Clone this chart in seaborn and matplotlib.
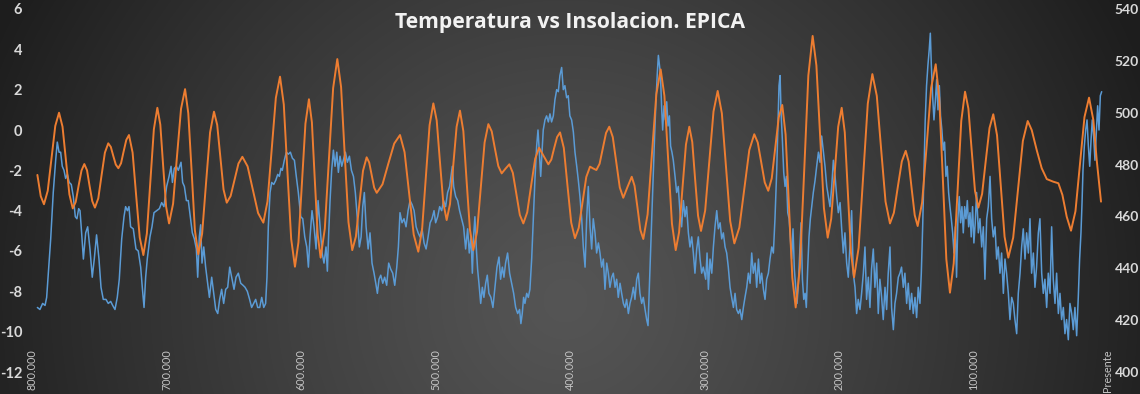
import numpy as np
import pandas as pd
import matplotlib
matplotlib.use("Agg")
import matplotlib.pyplot as plt
import seaborn as sns

# EPICA temperature anomaly (degC), ages in thousands of years before present
temp_age = [
    796.0, 794.1, 792.1, 790.3, 789.1, 787.9, 786.1, 784.2, 782.4, 781.2,
    779.9, 778.7, 777.5, 776.2, 775.0, 773.7, 772.3, 770.8, 769.3, 767.8,
    766.6, 765.3, 764.3, 763.1, 761.8, 760.1, 758.6, 756.9, 755.2, 753.7,
    752.0, 750.2, 748.7, 747.0, 745.0, 743.3, 741.5, 740.0, 738.3, 736.6,
    735.1, 733.3, 731.6, 730.4, 729.1, 727.9, 726.7, 724.7, 722.7, 721.0,
    719.2, 718.0, 716.7, 715.5, 714.3, 712.3, 710.8, 709.3, 707.3, 705.3,
    703.6, 701.9,
    699.9, 698.1, 696.6, 695.6, 694.2, 692.7, 691.2, 689.2, 688.0, 686.7,
    685.2, 683.8, 682.3, 680.8, 679.3, 677.8, 676.8, 675.6, 674.6, 673.6,
    672.3, 670.9, 669.4, 668.1, 666.4, 664.9, 663.4, 661.9, 660.5, 659.0,
    657.5, 656.0, 654.5, 653.0, 651.5, 649.8, 648.3, 646.6, 644.8, 643.1,
    641.6, 639.9, 638.2, 636.7, 635.2, 633.7, 632.2, 630.7, 629.2, 627.7,
    626.3, 625.3, 624.3, 623.0, 621.8, 620.3, 618.8, 617.3, 616.1, 614.9,
    613.9, 612.4, 610.9, 609.4, 607.9, 606.4, 604.9, 603.5, 602.0,
    600.2, 598.7, 597.2, 595.7, 594.5, 593.3, 591.8, 590.3, 588.8, 587.3,
    585.8, 584.3, 582.9, 581.4, 580.4, 579.4, 578.4, 577.2, 575.9, 574.7,
    573.4, 572.2, 571.0, 569.7, 568.5, 567.0, 565.5, 564.0, 562.5, 561.0,
    559.6, 558.1, 556.6, 555.3, 554.1, 552.9, 551.6, 550.1, 548.7, 547.2,
    545.7, 544.4, 543.2, 542.0, 540.7, 539.2, 537.8, 536.3, 534.8, 533.3,
    531.8, 530.3, 528.8, 527.6, 526.4, 524.9, 523.4, 521.9, 520.4, 518.9,
    517.4, 515.9, 514.4, 512.9, 511.5, 510.0, 508.5, 507.0, 505.5, 504.0,
    502.6, 501.1,
    499.9, 498.4, 496.9, 495.4, 494.0, 492.5, 491.0, 489.5, 488.5, 487.5,
    486.5, 485.0, 483.5, 482.1, 480.6, 479.1, 477.6, 476.1, 474.9, 473.6,
    472.6, 471.7, 470.7, 469.7, 468.7, 467.7, 466.4, 465.2, 464.0, 462.7,
    461.5, 460.3, 458.8, 457.3, 455.8, 454.3, 452.8, 451.6, 450.3, 449.1,
    447.9, 446.4, 444.9, 443.4, 441.9, 440.4, 438.9, 437.5, 436.5, 435.5,
    434.5, 433.5, 432.2, 431.0, 429.8, 428.5, 427.3, 426.1, 424.8, 423.8,
    422.8, 421.8, 420.8, 419.9, 418.6, 417.4, 416.1, 414.9, 413.7, 412.4,
    411.2, 409.9, 408.7, 407.5, 406.2, 405.0, 403.8, 402.5, 401.3, 400.1,
    398.8, 397.5, 396.3, 395.0, 393.8, 392.6, 391.3, 390.1, 388.8, 387.6,
    386.4, 385.1, 383.9, 382.7, 381.4, 380.2, 378.9, 377.7, 376.5, 375.2,
    374.0, 372.7, 371.5, 370.3, 369.0, 367.8, 366.5, 365.3, 364.1, 362.8,
    361.6, 360.3, 359.1, 357.9, 356.6, 355.4, 354.2, 352.9, 351.7, 350.4,
    349.2, 348.0, 346.7, 345.5, 344.2, 343.0, 342.0, 341.0, 340.0, 339.0,
    338.0, 337.1, 336.1, 335.1, 334.3, 333.6, 332.8, 331.8, 331.1, 330.1,
    329.1, 328.1, 327.1, 326.1, 325.2, 324.2, 323.2, 321.9, 320.7, 319.5,
    318.2, 317.0, 315.7, 314.5, 313.3, 312.0, 310.8, 309.5, 308.3, 307.1,
    305.8, 304.6, 303.3, 302.1, 300.9,
    299.1, 298.1, 297.1, 295.9, 294.6, 293.4, 292.2, 290.9, 289.7, 288.4,
    287.2, 286.0, 284.7, 283.5, 282.3, 281.0, 279.8, 278.5, 277.3, 276.1,
    274.8, 273.6, 272.3, 271.1, 269.9, 268.6, 267.4, 266.1, 264.9, 263.7,
    262.4, 261.2, 259.9, 258.7, 257.5, 256.2, 255.0, 253.8, 252.5, 251.3,
    250.0, 248.8, 247.6, 246.3, 245.3, 244.6, 243.8, 243.1, 242.1, 241.1,
    240.1, 239.1, 238.1, 237.1, 236.2, 235.2, 234.2, 233.2, 232.2, 231.2,
    230.2, 229.2, 228.2, 227.2, 226.2, 225.2, 224.3, 223.3, 222.3, 221.3,
    220.3, 219.1, 217.8, 216.6, 215.3, 214.1, 212.9, 211.6, 210.4, 209.1,
    207.9, 206.7, 205.4, 204.2, 202.9, 201.7, 200.5, 199.2,
    198.1, 196.8, 195.6, 194.3, 193.1, 191.9, 190.6, 189.4, 188.1, 186.9,
    185.7, 184.4, 183.2, 181.9, 180.7, 179.5, 178.2, 177.0, 175.8, 174.5,
    173.3, 172.0, 170.8, 169.6, 168.3, 167.1, 165.8, 164.6, 163.4, 162.1,
    160.9, 159.6, 158.4, 157.2, 155.9, 154.7, 153.5, 152.2, 151.0, 149.7,
    148.5, 147.3, 146.0, 144.8, 143.5, 142.3, 141.1, 139.8, 138.8, 137.8,
    136.8, 135.9, 134.9, 133.9, 132.9, 132.1, 131.4, 130.4, 129.4, 128.4,
    127.4, 126.4, 125.4, 124.5, 123.5, 122.5, 121.5, 120.5, 119.5, 118.5,
    117.5, 116.5, 115.5, 114.5, 113.5, 112.6, 111.6, 110.6, 109.6, 108.6,
    107.6, 106.6, 105.6, 104.6, 103.6, 102.6, 101.7, 100.7, 99.7, 98.7,
    97.7, 96.4, 95.2, 93.9, 92.7, 91.5, 90.2, 89.0, 87.7, 86.5,
    85.3, 84.0, 82.8, 81.6, 80.3, 79.1, 77.8, 76.6, 75.4, 74.1,
    72.9, 71.6, 70.4, 69.2, 67.9, 66.7, 65.4, 64.2, 63.0, 61.7,
    60.5, 59.2, 58.0, 56.8, 55.5, 54.3, 53.1, 51.8, 50.6, 49.3,
    48.1, 46.9, 45.6, 44.4, 43.1, 41.9, 40.7, 39.4, 38.2, 36.9,
    35.7, 34.5, 33.2, 32.0, 30.8, 29.5, 28.3, 27.0, 25.8, 24.6,
    23.3, 22.1, 21.1, 20.1, 19.3, 18.6, 17.6, 16.6, 15.6, 14.6,
    13.6, 12.6, 11.7, 10.7, 9.7, 8.7, 7.7, 6.7, 5.7, 4.7,
]
temp_c = [
    -8.8, -8.9, -8.6, -8.7, -8.3, -7.1, -5.4, -3.1, -1.5, -0.6,
    -1.1, -1.1, -1.8, -2.0, -2.4, -2.2, -2.6, -2.7, -3.3, -4.3,
    -4.4, -3.9, -4.0, -5.1, -6.4, -5.1, -4.8, -5.9, -7.3, -6.4,
    -5.2, -6.4, -7.8, -8.4, -8.4, -8.6, -8.5, -8.7, -8.9, -8.3,
    -7.4, -5.4, -4.3, -3.8, -4.0, -3.8, -4.8, -4.9, -5.9, -6.0,
    -6.8, -7.8, -8.8, -7.3, -6.4, -5.3, -4.8, -4.1, -4.0, -3.9,
    -3.6, -3.8,
    -2.8, -2.3, -1.8, -2.6, -1.9, -1.8, -2.0, -1.6, -2.6, -2.8,
    -3.5, -3.5, -4.3, -5.1, -5.4, -5.9, -7.3, -5.3, -4.7, -6.6,
    -5.8, -6.8, -7.6, -8.3, -7.3, -8.1, -8.9, -9.1, -8.4, -7.9,
    -8.6, -7.9, -7.8, -6.8, -7.3, -7.9, -7.3, -7.1, -7.6, -7.7,
    -7.8, -8.0, -8.4, -8.8, -8.6, -8.4, -8.8, -8.8, -8.3, -8.8,
    -8.6, -7.3, -4.8, -3.1, -2.6, -2.7, -2.5, -2.2, -2.3, -1.9,
    -2.0, -1.5, -1.1, -1.2, -1.1, -1.4, -1.5, -2.3, -3.1,
    -4.3, -4.4, -5.3, -5.8, -6.8, -5.3, -4.0, -4.8, -5.9, -3.5,
    -4.8, -6.1, -6.6, -5.8, -7.0, -5.1, -3.5, -2.0, -1.0, -1.8,
    -1.1, -2.1, -1.3, -1.8, -1.5, -1.1, -1.6, -1.3, -2.0, -2.3,
    -3.1, -4.4, -5.8, -5.3, -3.8, -3.1, -4.8, -5.9, -5.1, -6.6,
    -7.1, -7.6, -8.1, -7.4, -7.2, -7.6, -7.3, -7.7, -6.6, -6.9,
    -7.1, -7.7, -6.8, -5.8, -4.1, -4.6, -4.4, -4.8, -4.0, -3.5,
    -3.7, -4.0, -4.8, -5.1, -5.3, -4.9, -5.6, -5.9, -5.3, -4.6,
    -4.4, -4.0,
    -4.6, -4.3, -3.8, -4.0, -3.5, -3.8, -3.1, -2.8, -2.3, -1.8,
    -2.8, -3.3, -3.5, -4.0, -4.4, -4.8, -5.9, -4.9, -6.1, -5.3,
    -7.1, -5.3, -4.3, -5.8, -6.9, -7.6, -8.6, -7.8, -8.3, -7.6,
    -7.2, -8.1, -8.3, -8.8, -7.8, -6.8, -6.3, -7.4, -6.8, -7.3,
    -6.6, -6.1, -7.1, -7.6, -8.1, -8.8, -9.1, -8.9, -9.6, -9.1,
    -8.3, -8.6, -8.1, -8.3, -7.9, -6.4, -4.4, -2.5, -0.8, 0.0,
    -1.1, -2.3, -1.1, 0.0, 0.5, 0.7, 0.4, 0.8, 0.4, 0.7,
    1.5, 2.0, 1.9, 2.7, 3.1, 2.0, 2.2, 1.6, 1.7, 0.7,
    0.5, -0.1, -1.1, -1.8, -2.5, -3.3, -4.4, -5.8, -6.8, -4.4,
    -2.8, -4.8, -5.9, -4.4, -5.1, -6.1, -5.6, -6.1, -6.8, -6.4,
    -7.9, -6.6, -7.1, -7.8, -7.3, -7.1, -7.8, -7.4, -8.3, -7.6,
    -8.1, -8.6, -8.8, -8.4, -9.1, -8.6, -8.3, -7.8, -8.4, -7.4,
    -7.1, -8.1, -8.6, -8.3, -8.9, -9.4, -9.7, -7.8, -5.8, -3.8,
    -2.0, -0.3, 1.4, 2.8, 3.7, 3.3, 2.8, 1.0, 0.0, 1.2,
    0.5, 1.4, 0.2, 0.7, -0.8, -1.1, -1.5, -2.3, -3.1, -2.8,
    -4.1, -4.8, -3.5, -4.3, -3.8, -5.1, -5.8, -5.3, -6.1, -7.1,
    -5.9, -5.3, -6.4, -7.1, -6.8,
    -7.4, -6.1, -7.9, -6.4, -7.1, -5.8, -4.8, -4.0, -4.9, -4.6,
    -5.4, -5.1, -5.8, -6.1, -6.8, -7.8, -8.3, -8.8, -8.1, -8.9,
    -9.1, -8.9, -9.4, -8.8, -8.3, -7.8, -7.1, -7.6, -6.1, -7.1,
    -6.6, -7.8, -6.4, -7.6, -7.1, -7.9, -8.4, -7.4, -7.1, -6.4,
    -5.8, -6.1, -4.4, -2.0, 0.5, 2.2, 2.7, 0.9, -0.5, -2.1,
    -2.8, -2.3, -4.1, -4.4, -5.3, -6.4, -4.9, -6.9, -7.8, -8.6,
    -7.6, -6.1, -4.6, -7.4, -8.4, -8.1, -8.8, -6.9, -5.3, -4.4,
    -3.8, -3.1, -2.5, -1.8, -1.1, -1.6, -0.3, -1.1, -1.8, -2.8,
    -3.3, -3.8, -2.8, -1.5, -2.3, -3.3, -4.1, -3.6,
    -4.8, -6.1, -5.1, -6.6, -7.3, -5.8, -4.0, -7.1, -7.8, -9.1,
    -8.4, -8.9, -8.1, -7.1, -5.8, -8.4, -7.3, -8.8, -6.9, -5.9,
    -7.8, -6.6, -9.1, -7.4, -8.3, -9.4, -7.8, -8.9, -7.1, -5.8,
    -8.8, -9.9, -8.6, -8.1, -7.3, -7.1, -6.8, -7.8, -7.1, -8.6,
    -7.6, -8.9, -8.1, -9.1, -8.3, -9.3, -7.8, -8.6, -7.1, -4.8,
    -2.0, 0.5, 2.2, 3.2, 4.0, 4.8, 3.3, 1.7, 0.5, 1.4,
    2.5, 1.0, 2.2, 0.7, 0.0, -1.0, -0.6, -2.3, -1.8, -3.1,
    -3.8, -4.4, -5.1, -6.1, -4.8, -7.3, -4.4, -3.3, -4.6, -3.8,
    -5.1, -3.8, -4.4, -3.5, -4.8, -4.1, -5.3, -3.8, -5.6, -4.6,
    -3.1, -5.1, -4.4, -5.8, -4.8, -7.4, -4.4, -3.8, -2.3, -4.4,
    -5.3, -4.8, -6.4, -5.8, -7.1, -6.1, -8.1, -6.4, -7.1, -8.1,
    -9.4, -8.3, -8.6, -9.4, -10.1, -8.1, -7.1, -5.8, -4.9, -6.4,
    -5.1, -6.1, -4.4, -7.1, -6.1, -7.8, -6.8, -5.1, -4.4, -7.1,
    -8.1, -7.4, -8.8, -7.1, -8.1, -4.8, -7.4, -8.6, -7.1, -9.1,
    -8.1, -9.4, -8.8, -10.1, -9.4, -10.4, -8.6, -9.1, -9.9, -8.8,
    -10.2, -8.3, -6.4, -5.1, -3.6, -2.0, -0.8, 0.0, 0.5, -0.8,
    -1.8, -0.5, 0.5, -0.3, -1.5, -0.1, 1.2, 0.0, 1.7, 1.9,
]

# summer insolation (W/m2), ages in thousands of years before present
insol_age = [
    796.0, 793.5, 791.1, 788.3, 785.5, 782.7, 779.9, 777.3, 774.8, 772.2,
    769.7, 767.5, 765.4, 763.2, 761.1, 759.1, 757.2, 755.2, 753.2, 750.7,
    748.3, 745.8, 743.3, 741.4, 739.6, 737.7, 735.8, 733.8, 731.9, 729.9,
    727.9, 725.2, 722.6, 719.9, 717.2, 714.6, 712.0, 709.4, 706.8, 704.6,
    702.5, 700.3, 698.1, 695.1, 692.2, 689.2, 686.2, 683.8, 681.3, 678.9,
    676.4, 673.5, 670.6, 667.6, 664.7, 662.3, 660.0, 657.6, 655.2, 652.3,
    649.4, 646.5, 643.6, 639.7, 635.8, 631.9, 628.0, 624.9, 621.8, 618.7,
    615.6, 612.8, 610.1, 607.3, 604.5, 601.9, 599.3, 596.7, 594.1, 591.9,
    589.8, 587.6, 585.4, 582.3, 579.2, 576.1, 573.0, 570.2, 567.5, 564.7,
    561.9, 559.2, 556.6, 553.9, 551.2, 549.3, 547.5, 545.6, 543.7, 539.4,
    535.1, 530.7, 526.4, 523.0, 519.6, 516.2, 512.8, 510.0, 507.2, 504.4,
    501.6, 499.1, 496.7, 494.2, 491.7, 489.2, 486.8, 484.3, 481.8, 479.3,
    476.9, 474.4, 471.9, 469.1, 466.3, 463.5, 460.7, 458.2, 455.8, 453.3,
    450.8, 448.0, 445.1, 442.5, 439.9, 437.3, 434.7, 431.8, 428.9, 425.9,
    423.0, 419.6, 416.1, 413.9, 411.8, 409.6, 407.4, 404.6, 401.9, 399.1,
    396.3, 393.5, 390.7, 387.9, 385.1, 382.8, 380.4, 378.0, 375.6, 373.2,
    370.8, 368.2, 365.6, 363.0, 360.4, 357.3, 354.1, 352.0, 349.8, 347.7,
    345.5, 342.3, 339.1, 335.8, 332.6, 329.8, 327.0, 324.2, 321.4, 318.9,
    316.4, 313.8, 311.3, 309.1, 307.0, 304.8, 302.6, 299.5, 296.4, 293.3,
    290.2, 287.1, 284.0, 280.9, 277.8, 274.1, 270.4, 266.7, 263.0, 260.4,
    257.8, 255.2, 252.6, 250.0, 247.4, 244.8, 242.2, 239.7, 237.2, 234.7,
    232.2, 229.1, 225.9, 222.8, 219.6, 216.8, 214.0, 211.2, 208.4, 205.8,
    203.2, 200.6, 198.0, 195.7, 193.4, 191.1, 188.8, 185.4, 182.0, 178.6,
    175.2, 171.9, 168.7, 165.4, 162.1, 159.2, 156.3, 153.3, 150.4, 148.2,
    146.0, 143.7, 141.5, 138.2, 134.8, 131.5, 128.1, 125.5, 122.8, 120.2,
    117.5, 114.7, 111.9, 109.1, 106.3, 103.8, 101.4, 98.9, 96.4, 93.6,
    90.9, 88.1, 85.3, 82.5, 79.7, 76.9, 74.1, 70.5, 66.9, 63.3,
    59.7, 56.7, 53.0, 49.3, 45.5, 40.7, 36.9, 33.9, 30.7, 27.5,
    24.2, 20.8, 17.5, 14.1, 10.9, 8.4, 5.2,
]
insol_wm2 = [
    476.0, 467.8, 464.7, 469.9, 482.4, 494.9, 500.0, 494.6, 481.6, 468.5,
    463.1, 465.6, 471.7, 477.7, 480.2, 477.8, 471.8, 465.9, 463.4, 467.0,
    475.8, 484.6, 488.2, 486.8, 483.4, 480.0, 478.6, 480.5, 485.0, 489.5,
    491.4, 484.6, 468.3, 451.9, 445.1, 453.4, 473.5, 493.6, 501.9, 495.4,
    479.6, 463.8, 457.3, 464.9, 483.2, 501.5, 509.1, 499.8, 477.3, 454.7,
    445.4, 453.4, 472.9, 492.4, 500.4, 495.3, 482.9, 470.4, 465.3, 467.9,
    474.2, 480.4, 483.0, 479.3, 470.3, 461.3, 457.6, 465.8, 485.8, 505.7,
    513.9, 503.2, 477.3, 451.3, 440.6, 450.0, 472.9, 495.8, 505.2, 496.3,
    474.7, 453.0, 444.1, 455.3, 482.4, 509.5, 520.7, 509.9, 483.9, 457.8,
    447.0, 452.2, 464.9, 477.6, 482.8, 480.8, 476.0, 471.1, 469.1, 472.4,
    480.3, 488.1, 491.4, 484.8, 468.9, 453.0, 446.4, 454.8, 475.0, 495.2,
    503.6, 497.0, 481.1, 465.2, 458.6, 464.8, 479.7, 494.6, 500.8, 492.9,
    473.9, 454.9, 447.0, 454.1, 471.3, 488.5, 495.6, 492.8, 486.1, 479.4,
    476.6, 478.4, 480.1, 476.8, 468.7, 460.6, 457.3, 461.6, 471.9, 482.2,
    486.5, 483.3, 480.1, 481.9, 486.3, 490.6, 492.4, 486.4, 472.0, 457.6,
    451.6, 455.6, 465.4, 475.2, 479.2, 478.5, 477.9, 480.3, 486.3, 492.2,
    494.6, 490.6, 480.9, 471.2, 467.2, 471.3, 475.3, 471.8, 463.3, 454.8,
    451.3, 460.8, 484.0, 507.2, 516.7, 506.5, 481.9, 457.2, 447.0, 453.9,
    470.8, 487.7, 494.6, 488.7, 474.5, 460.3, 454.4, 462.3, 481.4, 500.5,
    508.4, 499.8, 479.0, 458.2, 449.6, 455.7, 470.7, 485.6, 491.7, 488.5,
    480.8, 473.1, 469.9, 474.7, 486.5, 498.2, 503.0, 491.6, 464.0, 436.3,
    424.9, 440.2, 477.3, 514.3, 529.6, 518.2, 490.7, 463.2, 451.8, 459.1,
    476.9, 494.6, 501.9, 492.4, 469.2, 446.0, 436.5, 447.9, 475.7, 503.5,
    514.9, 506.5, 486.1, 465.7, 457.3, 461.4, 471.3, 481.2, 485.3, 481.1,
    470.8, 460.5, 456.3, 465.4, 487.5, 509.6, 518.7, 505.8, 474.7, 443.5,
    430.6, 441.9, 469.4, 496.8, 508.1, 501.6, 485.8, 469.9, 463.4, 468.7,
    481.4, 494.1, 499.4, 491.3, 471.8, 452.2, 444.1, 451.8, 470.5, 489.1,
    496.8, 493.3, 485.6, 478.6, 474.4, 473.4, 472.8, 468.3, 459.9, 454.5,
    462.0, 480.2, 498.3, 505.8, 497.2, 481.8, 465.7,
]

x_ticks = [800, 700, 600, 500, 400, 300, 200, 100, 0]
x_labels = ['800.000', '700.000', '600.000', '500.000', '400.000',
            '300.000', '200.000', '100.000', 'Presente']
left_ticks = [-12, -10, -8, -6, -4, -2, 0, 2, 4, 6]
right_ticks = [400, 420, 440, 460, 480, 500, 520, 540]

sns.set_theme(style='dark')
plt.rcParams['font.family'] = ['Lato', 'DejaVu Sans']

W, H = 1140, 394
fig = plt.figure(figsize=(W / 100, H / 100), dpi=100)

# radial grey background
bg = fig.add_axes([0, 0, 1, 1], zorder=0)
yy, xx = np.mgrid[0:H, 0:W]
r = np.clip(np.hypot(xx - 565, yy - 300) / 620, 0, 1) ** 1.2
c_in = np.array([85, 85, 85]) / 255
c_out = np.array([30, 30, 30]) / 255
bg.imshow(c_in + (c_out - c_in) * r[..., None], aspect='auto', extent=[0, 1, 0, 1])
bg.axis('off')

ax = fig.add_axes([32 / W, 22 / H, 1076 / W, 363 / H], zorder=1)
ax.set_facecolor('none')

df_t = pd.DataFrame({'age': temp_age, 'temp': temp_c})
df_i = pd.DataFrame({'age': insol_age, 'insol': insol_wm2})

sns.lineplot(data=df_t, x='age', y='temp', ax=ax, color='#5B9BD5',
             linewidth=1.1, estimator=None, legend=False)
ax2 = ax.twinx()
ax2.set_zorder(2)
sns.lineplot(data=df_i, x='age', y='insol', ax=ax2, color='#ED7D31',
             linewidth=1.4, estimator=None, legend=False,
             solid_joinstyle='round', solid_capstyle='round')

ax.set_xlim(800, 0)
ax.set_ylim(-12, 6)
ax2.set_ylim(400, 540)

ax.set_xticks(x_ticks)
ax.set_xticklabels(x_labels, rotation=90, fontsize=7.8, color='#c4c4c4')
ax.set_yticks(left_ticks)
ax.set_yticklabels([str(t) for t in left_ticks], fontsize=10.5,
                   fontweight='bold', color='#d9d9d9')
ax2.set_yticks(right_ticks)
ax2.set_yticklabels([str(t) for t in right_ticks], fontsize=10,
                    fontweight='bold', color='#d9d9d9')
ax.tick_params(axis='x', length=0, pad=-16.5)
ax.tick_params(axis='y', length=0, pad=7)
ax2.tick_params(axis='y', length=0, pad=5)

for a in (ax, ax2):
    a.set_xlabel('')
    a.set_ylabel('')
    a.grid(False)
    for s in a.spines.values():
        s.set_visible(False)

fig.text(0.5, (H - 28) / H, 'Temperatura vs Insolacion. EPICA', ha='center',
         va='baseline', fontsize=15.2, fontweight='bold', color='#f2f2f2',
         family=['Open Sans', 'DejaVu Sans'])

fig.savefig('out.png', dpi=100)
